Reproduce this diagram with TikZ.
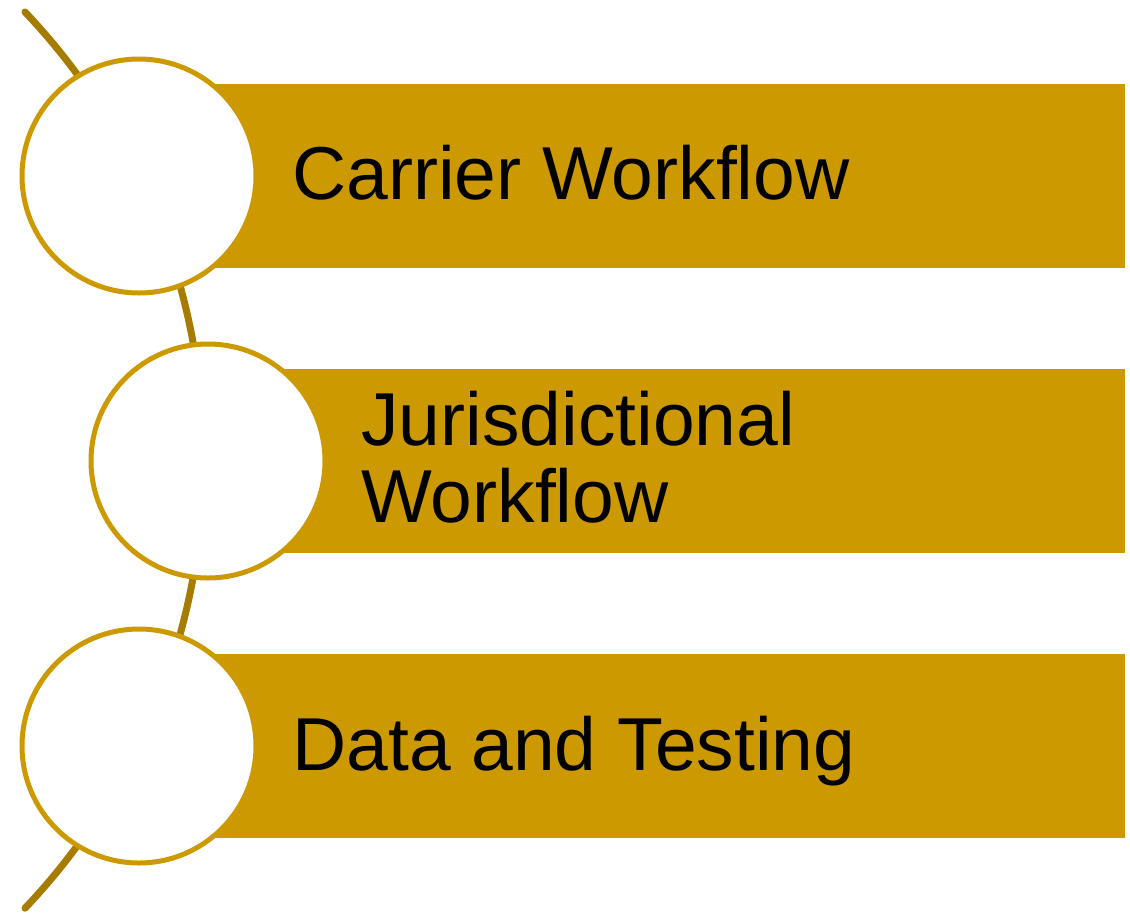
\documentclass[tikz,border=0pt]{standalone}
\usepackage{fontspec}
\setmainfont{Liberation Sans}
\definecolor{gold}{HTML}{CC9900}
\definecolor{darkgold}{HTML}{A67C00}
\begin{document}
\begin{tikzpicture}[x=0.5pt, y=-0.5pt]
  \useasboundingbox (0,0) rectangle (1130,916);

  % spine behind the circles
  \coordinate (spinetop) at (25,12);
  \draw[darkgold, line width=3.5pt, line cap=round]
    (spinetop) arc[start angle=-43.5, end angle=43.5, radius=651] coordinate (spinebot);

  \foreach \i/\cx/\yy/\base/\txt in {1/139/176/199/{Carrier Workflow},
                                     2/208/461/522/{Jurisdictional\\Workflow},
                                     3/139/746/770/{Data and Testing}} {
      \node[fill=gold, inner sep=0, minimum height=92pt,
            minimum width={(1049-\cx)*0.5pt}, anchor=west] (bar\i) at (\cx+76,\yy) {};
      \node[circle, draw=gold, line width=2.5pt, fill=white, minimum size=117pt,
            inner sep=0] (dot\i) at (\cx,\yy) {};
      \node[anchor=base west, inner sep=0, align=left,
            font=\fontsize{37.5}{38.5}\selectfont] (label\i) at (\cx+153,\base) {\txt};
  }
\end{tikzpicture}
\end{document}
